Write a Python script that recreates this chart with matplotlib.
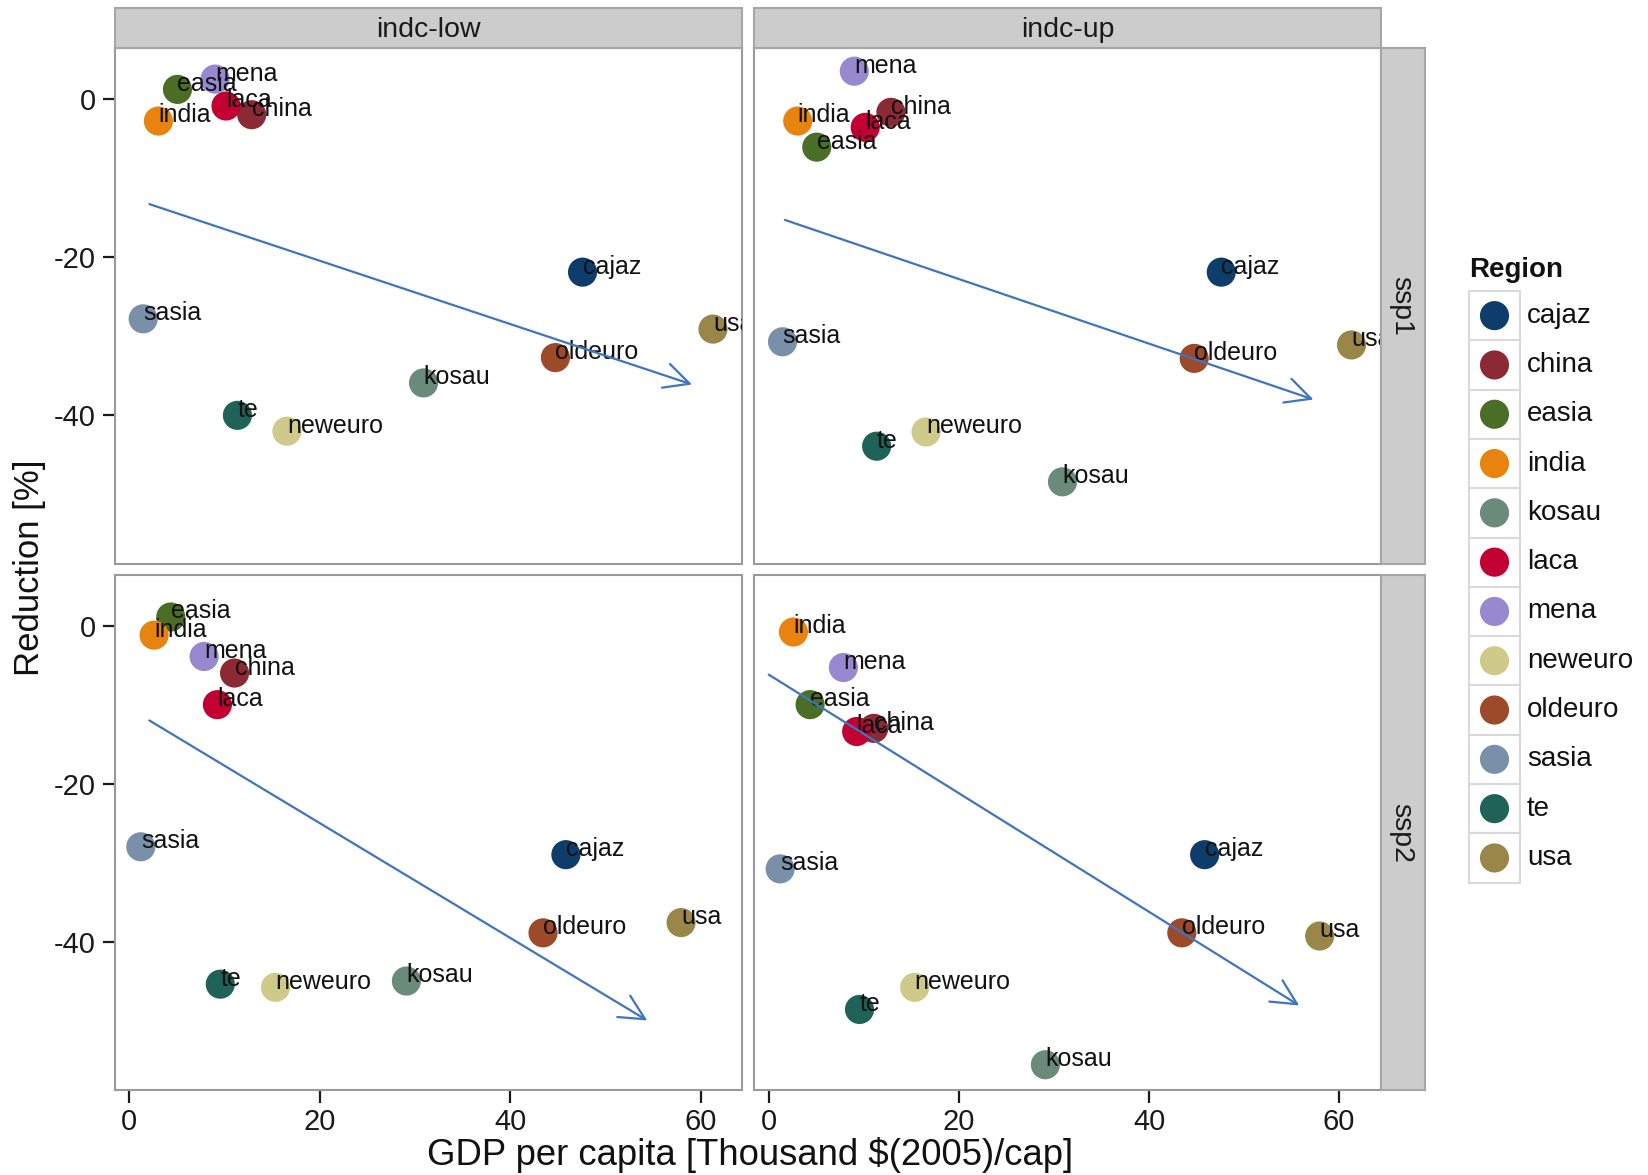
import numpy as np
import matplotlib.pyplot as plt
from matplotlib.patches import Rectangle

plt.rcParams.update({
    "font.family": ["Liberation Sans", "DejaVu Sans"],
    "font.size": 20,
    "axes.unicode_minus": False,
    "axes.linewidth": 1.5,
    "axes.edgecolor": "#9a9a9a",
    "xtick.direction": "out",
    "ytick.direction": "out",
    "xtick.major.size": 9,
    "ytick.major.size": 9,
    "xtick.major.width": 1.6,
    "ytick.major.width": 1.6,
    "xtick.major.pad": 4.5,
    "ytick.major.pad": 4.5,
    "xtick.labelsize": 21,
    "ytick.labelsize": 21,
    "xtick.labelcolor": "#1a1a1a",
    "ytick.labelcolor": "#1a1a1a",
})

regions = ["cajaz", "china", "easia", "india", "kosau", "laca",
           "mena", "neweuro", "oldeuro", "sasia", "te", "usa"]
colors = ["#0e3d6b", "#8b2a35", "#4b6e27", "#e8830f", "#6a8a7a", "#c20032",
          "#9689d0", "#cfca8a", "#9c4a2a", "#7a8fa8", "#1f6358", "#998648"]

scenarios = ["indc-low", "indc-up"]
ssps = ["ssp1", "ssp2"]

# GDP per capita [thousand $(2005)/cap] by region
gdp_ssp1 = [47.6, 12.85, 5.05, 3.05, 30.9, 10.15, 9.0, 16.55, 44.75, 1.45, 11.35, 61.3]
gdp_ssp2 = [45.85, 11.05, 4.35, 2.6, 29.1, 9.25, 7.85, 15.35, 43.45, 1.2, 9.55, 57.95]

# reduction [%] by region
red_low_ssp1 = [-21.9, -2.0, 1.2, -2.8, -35.9, -0.9, 2.5, -42.0, -32.7, -27.8, -40.0, -29.1]
red_up_ssp1 = [-21.9, -1.7, -6.1, -2.8, -48.4, -3.6, 3.5, -42.1, -32.8, -30.7, -43.9, -31.1]
red_low_ssp2 = [-29.0, -6.0, 1.1, -1.2, -45.0, -10.0, -3.9, -45.8, -38.9, -28.0, -45.4, -37.6]
red_up_ssp2 = [-29.0, -13.0, -10.0, -0.8, -55.6, -13.4, -5.3, -45.8, -38.9, -30.8, -48.6, -39.3]

# trend arrows: (x0, y0, x1, y1)
trend_low_ssp1 = (2.1, -13.3, 59.1, -36.1)
trend_up_ssp1 = (1.7, -15.3, 57.3, -38.0)
trend_low_ssp2 = (2.1, -12.0, 54.4, -50.0)
trend_up_ssp2 = (0.0, -6.2, 55.8, -48.1)

panels = {
    ("ssp1", "indc-low"): (gdp_ssp1, red_low_ssp1, trend_low_ssp1),
    ("ssp1", "indc-up"): (gdp_ssp1, red_up_ssp1, trend_up_ssp1),
    ("ssp2", "indc-low"): (gdp_ssp2, red_low_ssp2, trend_low_ssp2),
    ("ssp2", "indc-up"): (gdp_ssp2, red_up_ssp2, trend_up_ssp2),
}

W, H = 1649, 1175
fig = plt.figure(figsize=(W / 100, H / 100), dpi=100)

col_x = [(114.6, 742.5), (754.0, 1381.0)]
row_y = [(48.4, 563.7), (575.3, 1089.6)]
strip_h = 40.0
strip_w = 44.0


def fig_rect(x0, x1, y0, y1):
    return [x0 / W, 1 - y1 / H, (x1 - x0) / W, (y1 - y0) / H]


strip_face = "#cccccc"
strip_edge = "#a6a6a6"

for r, ssp in enumerate(ssps):
    for c, scen in enumerate(scenarios):
        x0, x1 = col_x[c]
        y0, y1 = row_y[r]
        ax = fig.add_axes(fig_rect(x0, x1, y0, y1))
        gdp, red, trend = panels[(ssp, scen)]

        ax.scatter(gdp, red, s=440, c=colors, linewidths=0, zorder=2)
        for name, gx, ry in zip(regions, gdp, red):
            ax.annotate(name, (gx, ry), xytext=(0, 4), textcoords="offset points",
                        ha="left", va="center", fontsize=18, color="#111111",
                        zorder=3, annotation_clip=False, clip_on=True)

        ax.annotate("", xy=(trend[2], trend[3]), xytext=(trend[0], trend[1]),
                    arrowprops=dict(arrowstyle="->,head_length=0.9,head_width=0.45",
                                    color="#3f74c0", lw=1.6, shrinkA=0, shrinkB=0),
                    zorder=4)

        ax.set_xlim(-1.55, 64.4)
        ax.set_ylim(-58.75, 6.38)
        ax.set_xticks([0, 20, 40, 60])
        ax.set_yticks([0, -20, -40])
        ax.tick_params(colors="#1a1a1a")
        if c > 0:
            ax.tick_params(axis="y", left=False, labelleft=False)
        if r == 0:
            ax.tick_params(axis="x", bottom=False, labelbottom=False)

        # facet strips
        if r == 0:
            sax = fig.add_axes(fig_rect(x0, x1, y0 - strip_h, y0))
            sax.set_facecolor(strip_face)
            sax.set_xticks([])
            sax.set_yticks([])
            for sp in sax.spines.values():
                sp.set_color(strip_edge)
            sax.text(0.5, 0.45, scen, ha="center", va="center",
                     fontsize=20.5, color="#1a1a1a", transform=sax.transAxes)
        if c == 1:
            sax = fig.add_axes(fig_rect(x1, x1 + strip_w, y0, y1))
            sax.set_facecolor(strip_face)
            sax.set_xticks([])
            sax.set_yticks([])
            for sp in sax.spines.values():
                sp.set_color(strip_edge)
            sax.text(0.45, 0.5, ssp, ha="center", va="center", rotation=-90,
                     fontsize=20.5, color="#1a1a1a", transform=sax.transAxes)

fig.text(750 / W, 1 - 1155 / H, "GDP per capita [Thousand $(2005)/cap]",
         ha="center", va="center", fontsize=26.3, color="#111111")
fig.text(29.5 / W, 1 - 568 / H, "Reduction [%]", ha="center", va="center",
         rotation=90, fontsize=25, color="#111111")

# legend drawn on a pixel-space overlay
lax = fig.add_axes([0, 0, 1, 1])
lax.set_xlim(0, W)
lax.set_ylim(H, 0)
lax.axis("off")
lax.patch.set_alpha(0)

key_x0, key_w = 1469, 51
key_y0, key_h = 291, 49.3
lax.text(key_x0, 270, "Region", ha="left", va="center", fontsize=20,
         fontweight="bold", color="#111111")
key_y = key_y0 + key_h * (np.arange(len(regions)) + 0.5)
for yk in key_y:
    lax.add_patch(Rectangle((key_x0, yk - key_h / 2), key_w, key_h,
                            facecolor="white", edgecolor="#d9d9d9", lw=1.5))
lax.scatter(np.full(len(regions), key_x0 + key_w / 2), key_y, s=440,
            c=colors, linewidths=0, zorder=3)
for name, yk in zip(regions, key_y):
    lax.text(key_x0 + key_w + 7, yk, name, ha="left", va="center",
             fontsize=20, color="#111111")

plt.savefig("out.png", dpi=100)
